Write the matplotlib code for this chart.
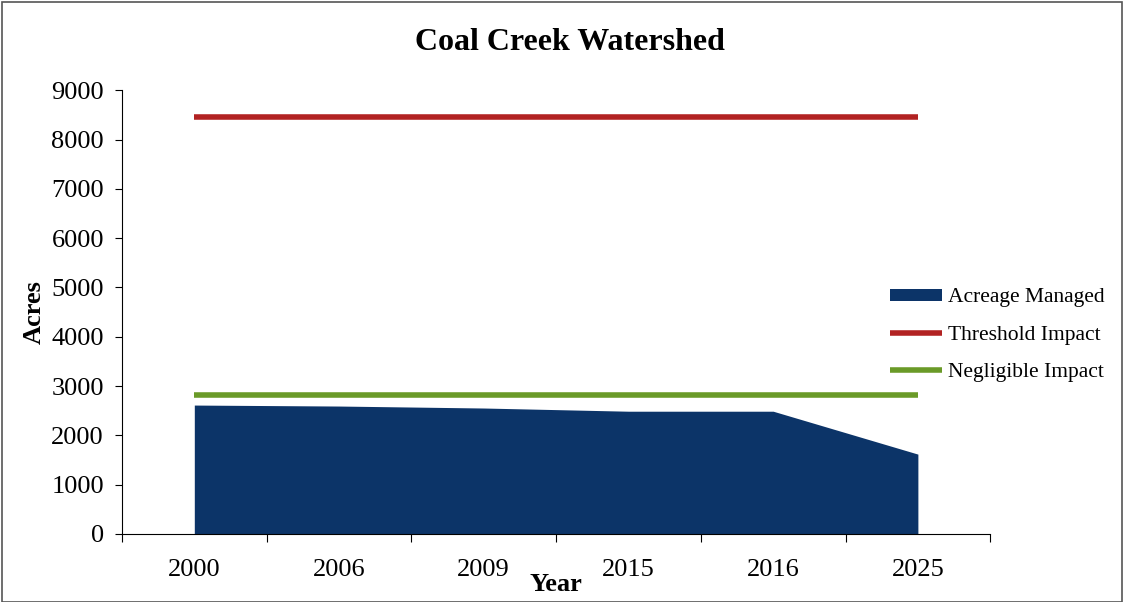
import matplotlib.pyplot as plt
import numpy as np

years = ["2000", "2006", "2009", "2015", "2016", "2025"]
acreage_managed = [2615, 2595, 2555, 2490, 2490, 1620]
threshold_impact = [8450, 8450, 8450, 8450, 8450, 8450]
negligible_impact = [2820, 2820, 2820, 2820, 2820, 2820]

plt.rcParams['font.family'] = ['Liberation Serif', 'DejaVu Serif']

fig = plt.figure(figsize=(11.24, 6.02), dpi=100)
ax = fig.add_axes([0.1085, 0.113, 0.7725, 0.737])

x = np.arange(len(years))
ax.fill_between(x, acreage_managed, color="#0c3468", label="Acreage Managed", linewidth=0)
ax.plot(x, threshold_impact, color="#b22222", lw=4, label="Threshold Impact", solid_capstyle="butt")
ax.plot(x, negligible_impact, color="#6a9a28", lw=4, label="Negligible Impact", solid_capstyle="butt")

ax.set_xlim(-0.5, len(years) - 0.5)
ax.set_ylim(0, 9000)
ax.set_yticks(range(0, 9001, 1000))
ax.set_xticks(np.arange(-0.5, len(years), 1.0))
ax.set_xticklabels([])
ax.set_xticks(x, minor=True)
ax.set_xticklabels(years, minor=True)
ax.tick_params(axis="x", which="minor", length=0, pad=18, labelsize=19)
ax.tick_params(axis="x", which="major", length=6, direction="out")
ax.tick_params(axis="y", length=5, direction="out", labelsize=19, pad=8)

for s in ["top", "right"]:
    ax.spines[s].set_visible(False)

fig.text(0.507, 0.930, "Coal Creek Watershed", fontsize=23, fontweight="bold",
         ha="center", va="center")
ax.set_ylabel("Acres", fontsize=19, fontweight="bold", labelpad=4)
ax.set_xlabel("Year", fontsize=19, fontweight="bold", labelpad=-6)

fig.legend(loc="center left", bbox_to_anchor=(0.792, 0.4435), frameon=False,
           fontsize=15.5, handlelength=2.4, handleheight=0.47, labelspacing=0.84,
           handletextpad=0.3, borderpad=0, borderaxespad=0)

# figure frame
fig.patches.append(plt.Rectangle((0.002, 0.0), 0.996, 0.996, transform=fig.transFigure,
                                 fill=False, edgecolor="#555555", lw=1.2))

fig.savefig("out.png", dpi=100)
